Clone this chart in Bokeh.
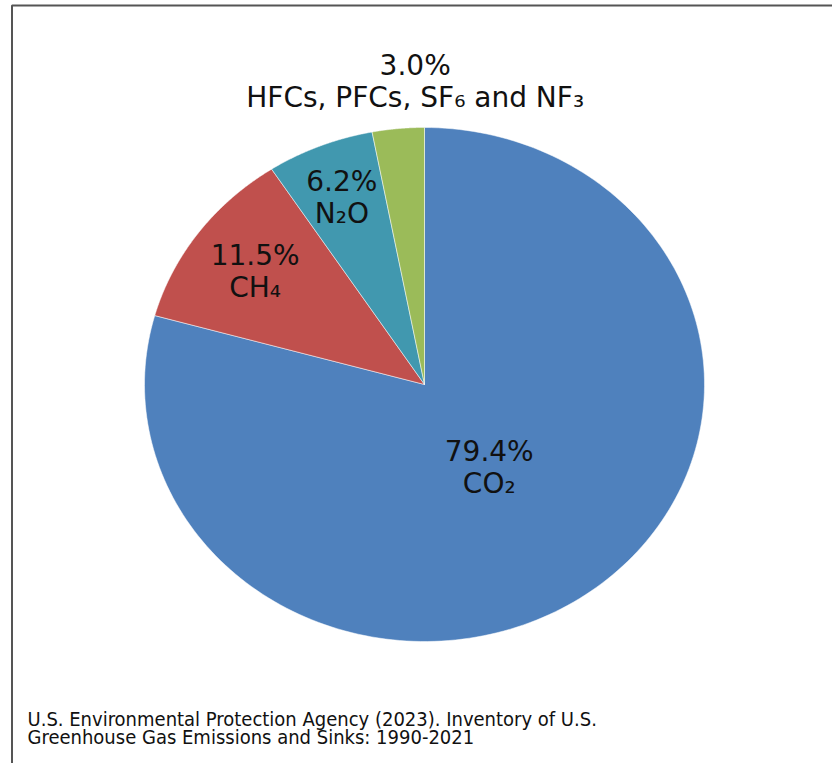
import numpy as np
from bokeh.plotting import figure
from bokeh.models import Range1d, ColumnDataSource, BoxAnnotation
from bokeh.core.properties import value
from bokeh.embed import file_html
from bokeh.resources import INLINE

# ---- data ----
gases = ["CO₂", "CH₄", "N₂O", "HFCs, PFCs, SF₆ and NF₃"]
shares = [79.4, 11.5, 6.2, 3.0]
source_lines = [
    "U.S. Environmental Protection Agency (2023). Inventory of U.S.",
    "Greenhouse Gas Emissions and Sinks: 1990-2021",
]

# ---- style / layout ----
colors = ["#4F81BD", "#C0504D", "#4198AF", "#9BBB59"]
W, H = 832, 763
cx, cy, rx, ry = 424, 384, 280, 257
label_frac = [0.40, 0.75, 0.79, 1.19]
label_dx = [-3, 0, 0, 22]

p = figure(width=W, height=H, output_backend="svg", toolbar_location=None,
           x_range=Range1d(0, W), y_range=Range1d(H, 0),
           x_axis_location=None, y_axis_location=None, min_border=0)
p.grid.visible = False
p.outline_line_color = None
p.background_fill_color = "white"
p.border_fill_color = "white"

total = sum(shares)
cum = np.concatenate([[0], np.cumsum(shares)]) / total * 2 * np.pi
xs, ys = [], []
for i in range(len(shares)):
    t = np.linspace(cum[i], cum[i + 1], 200)
    xs.append(np.concatenate([[cx], cx + rx * np.sin(t)]).tolist())
    ys.append(np.concatenate([[cy], cy - ry * np.cos(t)]).tolist())
src = ColumnDataSource(dict(xs=xs, ys=ys, color=colors))
p.patches("xs", "ys", source=src, fill_color="color", line_color="white",
          line_alpha=0.5, line_width=1)

# labels
mid = (cum[:-1] + cum[1:]) / 2
ax = [cx + f * rx * np.sin(m) + d for f, m, d in zip(label_frac, mid, label_dx)]
ay = [cy - f * ry * np.cos(m) for f, m in zip(label_frac, mid)]
pct = [f"{v:.1f}%" for v in shares]
lab = ColumnDataSource(dict(x=ax, y1=[a - 15 for a in ay], y2=[a + 17 for a in ay],
                            pct=pct, name=gases))
common = dict(source=lab, text_font=value("DejaVu Sans"), text_font_size="28px",
              text_align="center", text_baseline="alphabetic", text_color="#111111")
p.text(x="x", y="y1", text="pct", **common)
p.text(x="x", y="y2", text="name", **common)

# source caption
cap = ColumnDataSource(dict(x=[27, 27], y=[718, 736], t=source_lines))
p.text(x="x", y="y", text="t", source=cap, text_font=value("DejaVu Sans Condensed"),
       text_font_size="20px", text_align="left", text_baseline="alphabetic",
       text_color="#111111")

# frame border
p.add_layout(BoxAnnotation(left=11.5, top=5, right=W + 20, bottom=H + 20,
                           fill_color=None, fill_alpha=0, line_color="#555555",
                           line_alpha=1, line_width=2))

open("out.html", "w").write(file_html(p, INLINE))
